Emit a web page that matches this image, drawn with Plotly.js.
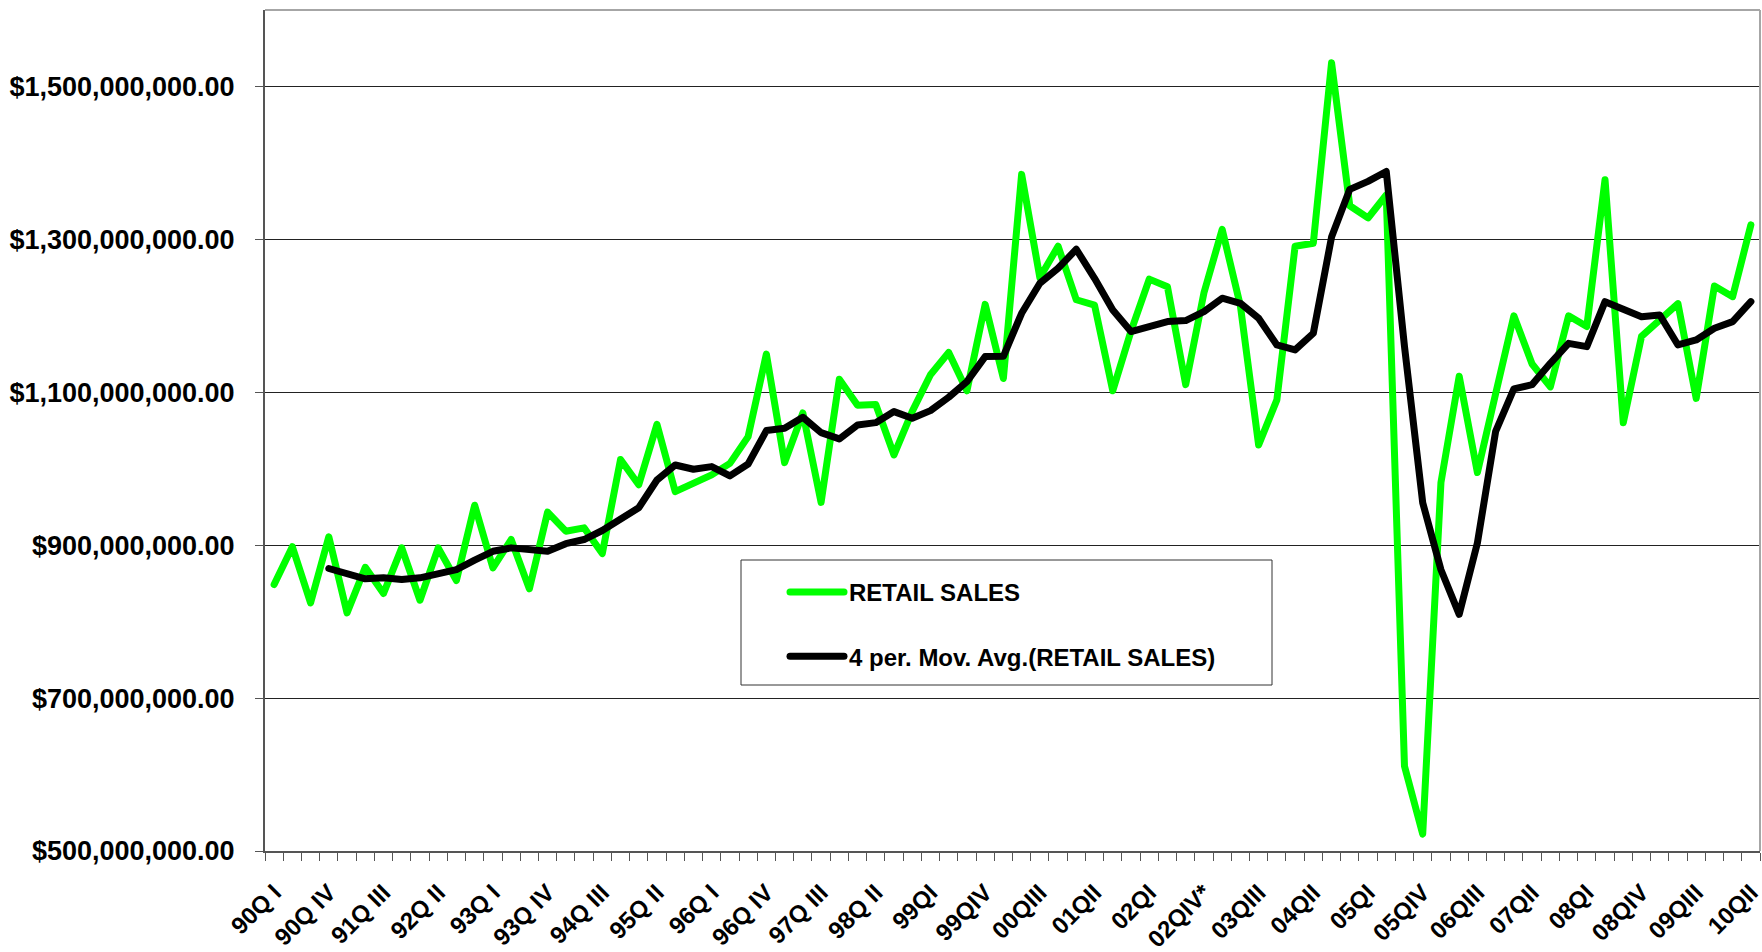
<!DOCTYPE html>
<html>
<head>
<meta charset="utf-8">
<script src="https://cdn.plot.ly/plotly-3.0.1.min.js"></script>
<style>
  html, body { margin: 0; padding: 0; background: #fff; }
  #chart { width: 1762px; height: 952px; }
  .scatterlayer path.js-line, .legend path.js-line { stroke-linejoin: round !important; stroke-linecap: round !important; }
</style>
</head>
<body>
<div id="chart"></div>
<script>
// Quarter categories (1990 Q1 .. 2010 Q2)
const quarters = [
  "90Q I","90Q II","90Q III","90Q IV",
  "91Q I","91Q II","91Q III","91Q IV",
  "92Q I","92Q II","92Q III","92Q IV",
  "93Q I","93Q II","93Q III","93Q IV",
  "94Q I","94Q II","94Q III","94Q IV",
  "95Q I","95Q II","95Q III","95Q IV",
  "96Q I","96Q II","96Q III","96Q IV",
  "97Q I","97Q II","97Q III","97Q IV",
  "98Q I","98Q II","98Q III","98Q IV",
  "99QI","99QII","99QIII","99QIV",
  "00QI","00QII","00QIII","00QIV",
  "01QI","01QII","01QIII","01QIV",
  "02QI","02QII","02QIII","02QIV*",
  "03QI","03QII","03QIII","03QIV",
  "04QI","04QII","04QIII","04QIV",
  "05QI","05QII","05QIII","05QIV",
  "06QI","06QII","06QIII","06QIV",
  "07QI","07QII","07QIII","07QIV",
  "08QI","08QII","08QIII","08QIV",
  "09QI","09QII","09QIII","09QIV",
  "10QI","10QII"
];

// Labels shown on the category axis
const tickLabels = [
  "90Q I","90Q IV","91Q III","92Q II","93Q I","93Q IV","94Q III","95Q II",
  "96Q I","96Q IV","97Q III","98Q II","99QI","99QIV","00QIII","01QII",
  "02QI","02QIV*","03QIII","04QII","05QI","05QIV","06QIII","07QII",
  "08QI","08QIV","09QIII","10QII"
];

// RETAIL SALES, millions of dollars
const retailSales = [
  848.5, 898, 824.5, 911, 811.5, 871, 836.8, 896.5, 828, 896.5,
  853.8, 952.3, 870.3, 907.4, 842.9, 943.2, 918.3, 922.7, 889, 1012,
  979, 1058, 970, 981, 992, 1007, 1042, 1150, 1008, 1073,
  956, 1117, 1083, 1084, 1018, 1075, 1123, 1152, 1102, 1215,
  1118, 1385, 1250, 1291, 1221, 1214, 1102, 1180, 1248, 1238,
  1110, 1230, 1313, 1213, 1031, 1090, 1291, 1295, 1531, 1344,
  1328, 1358, 611, 522, 982, 1121, 995, 1098, 1200, 1137,
  1107, 1200, 1186, 1378, 1060, 1173, 1195, 1216, 1092, 1239,
  1225, 1319
];

// 4 per. Mov. Avg. (RETAIL SALES), millions of dollars, as drawn
const movingAvg = [
  null, null, null, 869.5, 861.6, 856, 857.3, 855, 857.3, 863,
  868, 880.4, 892, 896.5, 894.3, 892, 902, 907.4, 919.2, 934.4,
  949, 985.3, 1004.9, 999.3, 1002.8, 990.6, 1006.2, 1049.9, 1052.9, 1067.3,
  1047.2, 1039, 1057.3, 1060.3, 1074.7, 1066, 1076, 1093.5, 1114, 1146.7,
  1147, 1203.3, 1242.6, 1262.2, 1287, 1249, 1207.7, 1179.4, 1186, 1192.5,
  1193.8, 1205.5, 1223, 1216.4, 1196.8, 1161.9, 1155.4, 1177.2, 1303, 1365.4,
  1375.9, 1388.8, 1160, 955.5, 867.9, 809.5, 903, 1048.9, 1104.4, 1110,
  1137.9, 1164, 1159.7, 1218.5, 1208.5, 1198.9, 1201.1, 1161.9, 1168.4, 1183.7,
  1192.4, 1218.5
];

const seriesNames = ["RETAIL SALES", "4 per. Mov. Avg.(RETAIL SALES)"];

const MILLION = 1e6;
const xPos = quarters.map((q, i) => i);
const toDollars = arr => arr.map(v => (v === null ? null : v * MILLION));

const fontFamily = "'Liberation Sans', Arial, Helvetica, sans-serif";

const data = [
  {
    type: "scatter", mode: "lines", name: seriesNames[0],
    x: xPos, y: toDollars(retailSales), text: quarters,
    line: { color: "#00ff00", width: 7 },
    legendgroup: "a", hoverinfo: "text+y"
  },
  {
    type: "scatter", mode: "lines", name: seriesNames[1],
    x: xPos, y: toDollars(movingAvg), text: quarters,
    line: { color: "#000000", width: 7 },
    connectgaps: false,
    legendgroup: "b", hoverinfo: "text+y"
  }
];

const L = 265, R = 1760, T = 10, B = 851, W = 1762, H = 952;
const px2x = p => (p - L) / (R - L);
const px2y = p => (B - p) / (B - T);

const layout = {
  width: W, height: H,
  margin: { l: L, r: W - R, t: T, b: H - B, pad: 0 },
  paper_bgcolor: "#ffffff", plot_bgcolor: "#ffffff",
  font: { family: fontFamily, color: "#000000" },
  showlegend: true,
  xaxis: {
    type: "linear",
    range: [-0.5, quarters.length - 0.5],
    tickmode: "array",
    tickvals: tickLabels.map(l => quarters.indexOf(l)),
    ticktext: tickLabels,
    tickangle: -45,
    ticks: "",
    ticklabelstandoff: 16,
    ticklabeloverflow: "allow",
    tickfont: { family: fontFamily, size: 24, color: "#000", weight: "bold" },
    showgrid: false, zeroline: false,
    showline: true, linecolor: "#555555", linewidth: 2,
    minor: { tickmode: "linear", tick0: -0.5, dtick: 1, ticks: "outside", ticklen: 8, tickwidth: 1, tickcolor: "#555555", showgrid: false },
    fixedrange: true
  },
  yaxis: {
    range: [500 * MILLION, 1600 * MILLION],
    tickmode: "linear", tick0: 500 * MILLION, dtick: 200 * MILLION,
    tickformat: "$,.2f",
    ticks: "outside", ticklen: 8, tickwidth: 1, tickcolor: "#555555",
    ticklabelstandoff: 15,
    tickfont: { family: fontFamily, size: 27, color: "#000", weight: "bold" },
    showgrid: true, gridcolor: "#222222", gridwidth: 1,
    zeroline: false,
    showline: true, linecolor: "#555555", linewidth: 2,
    fixedrange: true
  },
  legend: {
    x: px2x(785), y: px2y(570), xanchor: "left", yanchor: "top",
    bgcolor: "rgba(0,0,0,0)", borderwidth: 0,
    font: { family: fontFamily, size: 24, color: "#000", weight: "bold" },
    traceorder: "grouped", tracegroupgap: 30, itemwidth: 60
  },
  shapes: [
    { type: "line", xref: "paper", yref: "paper", x0: 0, x1: 1, y0: 1, y1: 1, line: { color: "#a6a6a6", width: 2 } },
    { type: "line", xref: "paper", yref: "paper", x0: 1, x1: 1, y0: 0, y1: 1, line: { color: "#a6a6a6", width: 2 } },
    { type: "rect", xref: "paper", yref: "paper", layer: "below",
      x0: px2x(741), x1: px2x(1272), y0: px2y(685), y1: px2y(560),
      line: { color: "#333333", width: 1 }, fillcolor: "#ffffff" }
  ],
  hovermode: "closest"
};

Plotly.newPlot("chart", data, layout, { displayModeBar: false, staticPlot: true }).then(gd => {
  gd.querySelectorAll(".legend .traces").forEach(t => {
    const p = t.querySelector("path.js-line");
    if (p) p.setAttribute("d", "M5,0h54");
    const txt = t.querySelector("text.legendtext");
    if (txt) txt.setAttribute("x", "64");
  });
});
</script>
</body>
</html>
